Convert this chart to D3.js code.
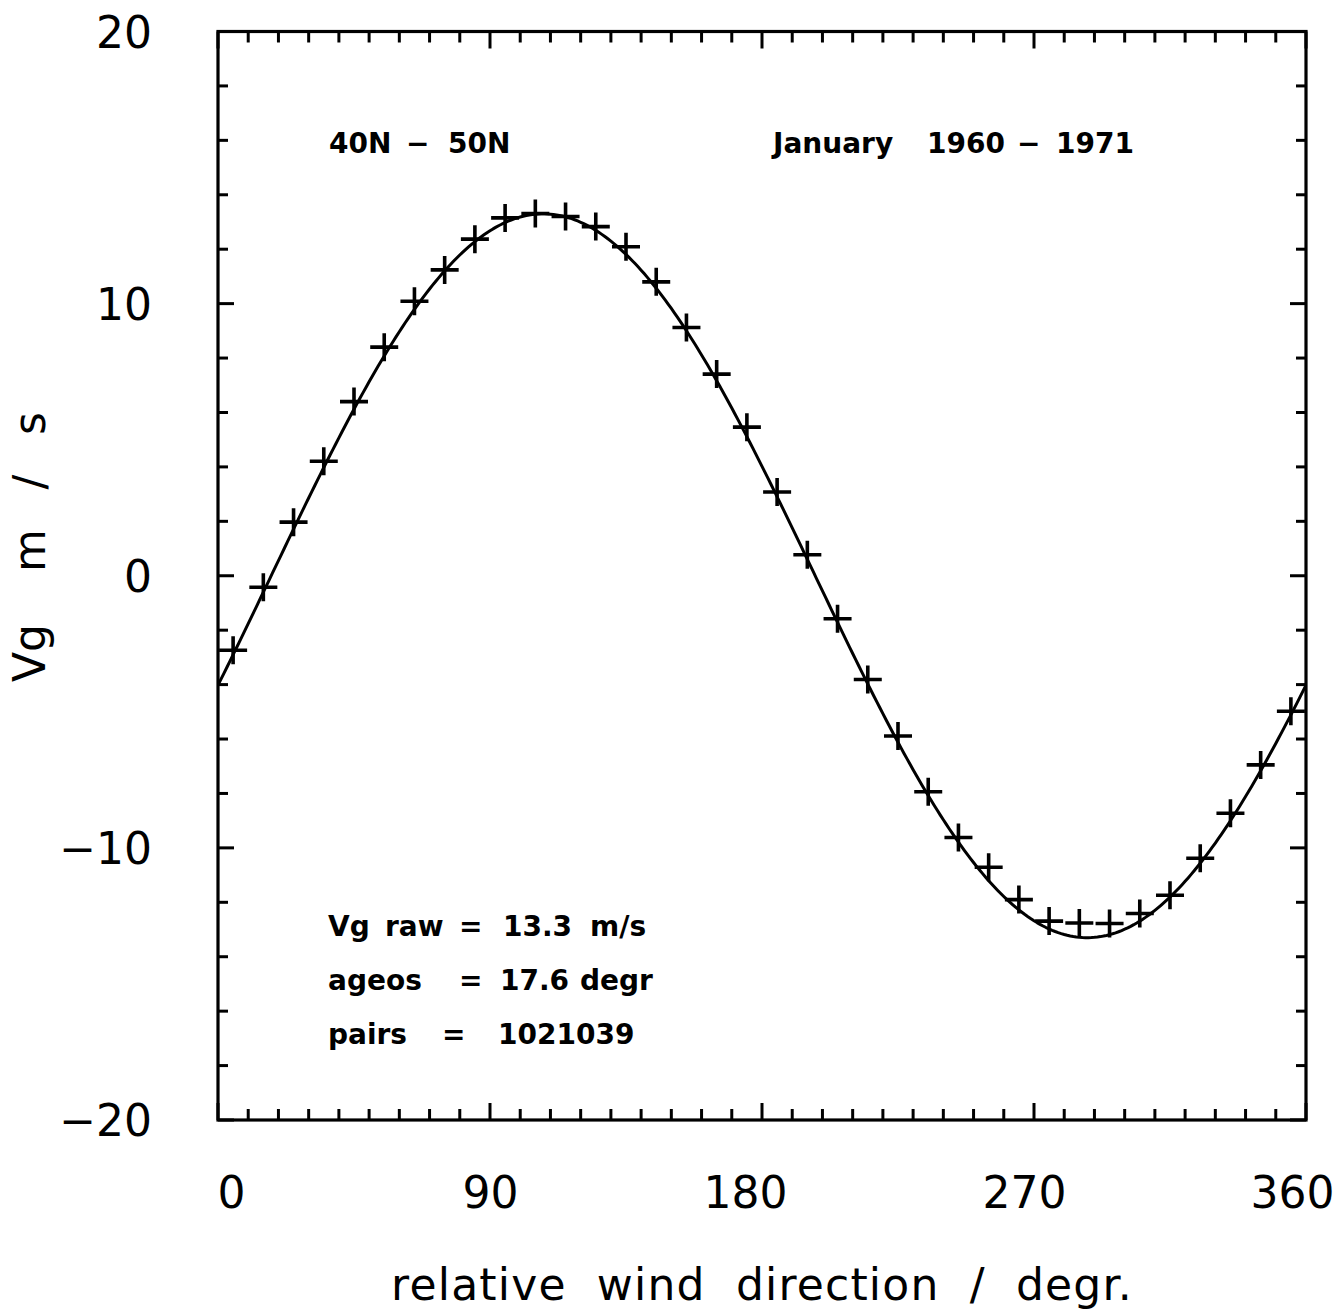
<!DOCTYPE html>
<html>
<head>
<meta charset="utf-8">
<script src="https://cdn.jsdelivr.net/npm/d3@7"></script>
<style>
  html, body { margin: 0; padding: 0; background: #fff; }
  svg { display: block; }
  text { fill: #000; white-space: pre; }
</style>
</head>
<body>
<svg id="chart" width="1341" height="1312"></svg>
<script>
// Relative wind direction (degrees) of each binned mean
const directions = [5, 15, 25, 35, 45, 55, 65, 75, 85, 95, 105, 115, 125, 135, 145, 155, 165, 175,
                    185, 195, 205, 215, 225, 235, 245, 255, 265, 275, 285, 295, 305, 315, 325, 335, 345, 355];
// Mean geostrophic wind component Vg (m/s) per direction bin
const vgMeans = [-2.74, -0.42, 1.97, 4.21, 6.40, 8.40, 10.09, 11.24, 12.37, 13.15, 13.31, 13.20,
                 12.83, 12.09, 10.80, 9.12, 7.41, 5.46, 3.08, 0.77, -1.58, -3.81, -5.89, -7.94,
                 -9.62, -10.71, -11.90, -12.69, -12.76, -12.78, -12.41, -11.74, -10.38, -8.73, -6.95, -4.98];
// Fitted harmonic: amplitude (m/s) and ageostrophic angle (degrees)
const fitAmplitude = 13.3;
const fitAgeos = 17.6;
const pairCount = 1021039;

const xTickLabels = [0, 90, 180, 270, 360];
const yTickLabels = [-20, -10, 0, 10, 20];
const xMinorTicks = d3.range(0, 361, 10);
const yMinorTicks = d3.range(-20, 21, 2);

(function draw() {
  const svg = d3.select("#chart");
  const plotLeft = 218, plotRight = 1306, plotTop = 31.5, plotBottom = 1120;

  const x = d3.scaleLinear().domain([0, 360]).range([plotLeft, plotRight]);
  const y = d3.scaleLinear().domain([-20, 20]).range([plotBottom, plotTop]);

  const INK = "#000";
  const font = "'DejaVu Sans', sans-serif";

  // Tick marks on all four sides, pointing inward
  const tickG = svg.append("g").attr("stroke", INK).attr("stroke-width", 3);
  xMinorTicks.forEach(v => {
    const len = (v % 90 === 0) ? 17 : 11;
    tickG.append("line").attr("x1", x(v)).attr("x2", x(v)).attr("y1", y(-20)).attr("y2", y(-20) - len);
    tickG.append("line").attr("x1", x(v)).attr("x2", x(v)).attr("y1", y(20)).attr("y2", y(20) + len);
  });
  yMinorTicks.forEach(v => {
    const len = (v % 10 === 0) ? 16 : 10;
    tickG.append("line").attr("y1", y(v)).attr("y2", y(v)).attr("x1", x(0)).attr("x2", x(0) + len);
    tickG.append("line").attr("y1", y(v)).attr("y2", y(v)).attr("x1", x(360)).attr("x2", x(360) - len);
  });

  // Plot frame
  svg.append("rect")
    .attr("x", x(0)).attr("y", y(20))
    .attr("width", x(360) - x(0)).attr("height", y(-20) - y(20))
    .attr("fill", "none").attr("stroke", INK).attr("stroke-width", 3.2);

  // Tick labels via axis generators (tick lines hidden; drawn above)
  const xLabelShift = { 0: 13, 90: 0, 180: -17, 270: -10, 360: -14 };
  const xAxis = svg.append("g")
    .attr("transform", `translate(0,${plotBottom})`)
    .call(d3.axisBottom(x).tickValues(xTickLabels).tickSize(0).tickPadding(88).tickFormat(d3.format("d")));
  xAxis.select(".domain").remove();
  xAxis.selectAll("text")
    .attr("font-family", font).attr("font-size", 44).attr("fill", INK)
    .attr("dy", "0")
    .attr("dx", d => xLabelShift[d]);

  const yAxis = svg.append("g")
    .attr("transform", `translate(${plotLeft},0)`)
    .call(d3.axisLeft(y).tickValues(yTickLabels).tickSize(0).tickPadding(66).tickFormat(d3.format("d")));
  yAxis.select(".domain").remove();
  yAxis.selectAll("text")
    .attr("font-family", font).attr("font-size", 44).attr("fill", INK)
    .attr("dy", "0.36em");

  // Axis titles
  svg.append("text")
    .attr("x", (plotLeft + plotRight) / 2).attr("y", 1300)
    .attr("text-anchor", "middle")
    .attr("font-family", font).attr("font-size", 44)
    .style("letter-spacing", "1.2px")
    .style("word-spacing", "15px")
    .text("relative wind direction / degr.");

  const yTitle = svg.append("g").attr("transform", "translate(45,0) rotate(-90)")
    .attr("font-family", font).attr("font-size", 44);
  yTitle.append("text").attr("x", -682).attr("y", 0).text("Vg");
  yTitle.append("text").attr("x", -572).attr("y", 0)
    .attr("textLength", 160).attr("lengthAdjust", "spacing").text("m/s");

  // Fitted curve, clipped to the plot frame
  svg.append("clipPath").attr("id", "plot-clip").append("rect")
    .attr("x", plotLeft).attr("y", plotTop)
    .attr("width", plotRight - plotLeft).attr("height", plotBottom - plotTop);

  const curveX = d3.range(0, 360.5, 1);
  const line = d3.line()
    .x(d => x(d))
    .y(d => y(fitAmplitude * Math.sin((d - fitAgeos) * Math.PI / 180)));
  svg.append("path")
    .datum(curveX)
    .attr("clip-path", "url(#plot-clip)")
    .attr("d", line)
    .attr("fill", "none").attr("stroke", INK).attr("stroke-width", 3)
    .attr("stroke-linejoin", "round");

  // Bin means as plus markers
  const arm = 14;
  svg.append("g").selectAll("path")
    .data(directions.map((d, i) => [d, vgMeans[i]]))
    .join("path")
    .attr("transform", d => `translate(${x(d[0])},${y(d[1])})`)
    .attr("d", `M${-arm},0H${arm}M0,${-arm}V${arm}`)
    .attr("stroke", INK).attr("stroke-width", 3.6).attr("fill", "none");

  // Annotations: each word placed at its own left edge
  function note(words, yPos) {
    const t = svg.append("text")
      .attr("y", yPos)
      .attr("font-family", font).attr("font-size", 28).attr("font-weight", "bold");
    words.forEach(([str, xPos]) => t.append("tspan").attr("x", xPos).text(str));
  }
  note([["40N", 329], ["\u2212", 406], ["50N", 448]], 153);
  note([["January", 773], ["1960", 927], ["\u2212", 1017], ["1971", 1056]], 153);
  note([["Vg", 328], ["raw", 385], ["=", 459], [fitAmplitude.toFixed(1), 503], ["m/s", 590]], 936);
  note([["ageos", 328], ["=", 459], [fitAgeos.toFixed(1), 500], ["degr", 580]], 990);
  note([["pairs", 328], ["=", 442], [String(pairCount), 498]], 1044);
})();
</script>
</body>
</html>
